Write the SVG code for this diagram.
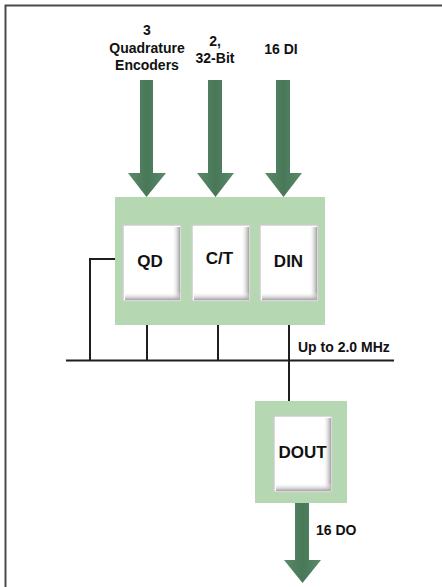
<svg xmlns="http://www.w3.org/2000/svg" width="442" height="587" viewBox="0 0 442 587">
<defs>
<style>
.t{font-family:"Liberation Sans",Arial,sans-serif;font-weight:bold;fill:#111;}
.lbl{font-size:14px;text-anchor:middle;}
.nar{font-size:14px;}
.btn{font-size:17px;text-anchor:middle;}
.panel{fill:#b5d7b2;}
.arrow{fill:url(#ag);}
.wire{stroke:#1e1e1e;stroke-width:2;fill:none;}
</style>
<linearGradient id="ag" x1="0" y1="0" x2="1" y2="0">
<stop offset="0" stop-color="#5a8a68"/>
<stop offset="0.5" stop-color="#487858"/>
<stop offset="1" stop-color="#5a8a68"/>
</linearGradient>
<linearGradient id="rs" x1="0" y1="0" x2="1" y2="0">
<stop offset="0" stop-color="#ffffff" stop-opacity="0"/>
<stop offset="1" stop-color="#a0a0a0"/>
</linearGradient>
<linearGradient id="bs" x1="0" y1="0" x2="0" y2="1">
<stop offset="0" stop-color="#ffffff" stop-opacity="0"/>
<stop offset="1" stop-color="#a0a0a0"/>
</linearGradient>
<g id="button">
<rect x="0" y="0" width="58" height="76" fill="#ffffff" stroke="#c9cfc8" stroke-width="1.5"/>
<rect x="49" y="2" width="8" height="72" fill="url(#rs)"/>
<rect x="2" y="67" width="55" height="8" fill="url(#bs)"/>
</g>
</defs>
<rect x="0" y="0" width="442" height="587" fill="#ffffff"/>
<path d="M5.5 587 V5.5 H442" fill="none" stroke="#4a4a4a" stroke-width="2"/>

<g id="input-labels">
<text class="t lbl" x="147" y="35">3</text>
<text class="t lbl" x="147" y="53">Quadrature</text>
<text class="t lbl" x="147" y="70">Encoders</text>
<text class="t lbl" x="215" y="46">2,</text>
<text class="t lbl" x="215" y="63">32-Bit</text>
<text class="t lbl" x="281" y="54">16 DI</text>
</g>

<g id="arrows">
<polygon class="arrow" points="140,80 153,80 153,173 166,173 146.5,197 128,173 140,173"/>
<polygon class="arrow" points="208,80 222,80 222,173 234,173 215.5,197 197,173 208,173"/>
<polygon class="arrow" points="276,80 290,80 290,173 302,173 283.5,197 265,173 276,173"/>
<polygon class="arrow" points="295,503 309,503 309,560 321,560 302.5,583 284,560 295,560"/>
</g>

<g id="connectors">
<line class="wire" x1="66" y1="360.5" x2="394" y2="360.5"/>
<polyline class="wire" points="116,259 90,259 90,361"/>
<line class="wire" x1="147" y1="325" x2="147" y2="361"/>
<line class="wire" x1="218" y1="325" x2="218" y2="361"/>
<line class="wire" x1="289" y1="325" x2="289" y2="402"/>
<text class="t nar" x="298" y="352">Up to 2.0 MHz</text>
</g>

<g id="main-board">
<rect class="panel" x="115" y="197" width="210" height="128"/>
</g>
<g id="QD">
<use href="#button" x="123" y="225"/>
<text class="t btn" x="150" y="267">QD</text>
</g>
<g id="CT">
<use href="#button" x="192" y="225"/>
<text class="t btn" x="219.5" y="264">C/T</text>
</g>
<g id="DIN">
<use href="#button" x="260" y="225"/>
<text class="t btn" x="288.5" y="267">DIN</text>
</g>

<g id="DOUT">
<rect class="panel" x="255" y="401" width="92" height="102"/>
<use href="#button" x="274" y="416"/>
<text class="t btn" x="302.5" y="458">DOUT</text>
</g>

<g id="output-label">
<text class="t nar" x="316" y="535">16 DO</text>
</g>
</svg>
